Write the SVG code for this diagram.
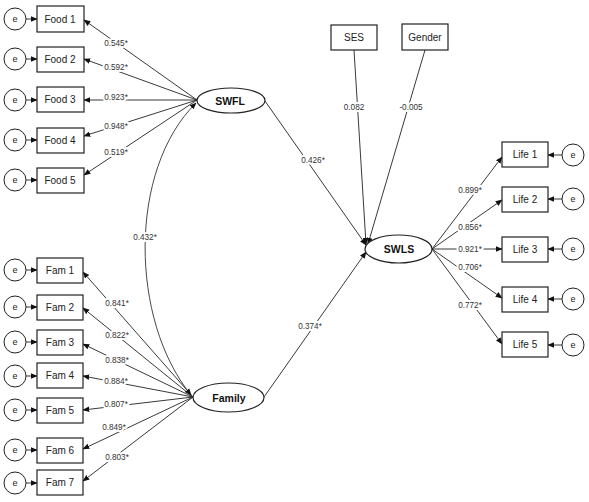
<svg xmlns="http://www.w3.org/2000/svg" width="589" height="502" viewBox="0 0 589 502">
<defs>
<marker id="ah" viewBox="0 0 10 10" refX="9" refY="5" markerWidth="7" markerHeight="7" markerUnits="userSpaceOnUse" orient="auto-start-reverse">
<path d="M0,1 L10,5 L0,9 z" fill="#111"/>
</marker>
<style>
.box{fill:#fff;stroke:#222;stroke-width:1.2}
.lat{fill:#fff;stroke:#222;stroke-width:1.2}
.err{fill:#fff;stroke:#222;stroke-width:1}
.t{font-family:"Liberation Sans",Arial,sans-serif;font-size:10px;fill:#222;text-anchor:middle}
.tb{font-family:"Liberation Sans",Arial,sans-serif;font-size:10.5px;font-weight:bold;fill:#111;text-anchor:middle}
.te{font-family:"Liberation Sans",Arial,sans-serif;font-size:9px;fill:#222;text-anchor:middle}
.lb{font-family:"Liberation Sans",Arial,sans-serif;font-size:8.2px;fill:#333;text-anchor:middle;stroke:#fff;stroke-width:4;paint-order:stroke;stroke-linejoin:round}
.c{stroke:#222;stroke-width:0.9;fill:none;marker-end:url(#ah)}
.cc{stroke:#333;stroke-width:0.9;fill:none;marker-end:url(#ah);marker-start:url(#ah)}
</style>
</defs>
<rect width="589" height="502" fill="#fff"/>
<g id="connectors">
<line class="c" x1="26" y1="19" x2="37" y2="19"/>
<line class="c" x1="26" y1="59" x2="37" y2="59"/>
<line class="c" x1="26" y1="100" x2="37" y2="100"/>
<line class="c" x1="26" y1="140" x2="37" y2="140"/>
<line class="c" x1="26" y1="180" x2="37" y2="180"/>
<line class="c" x1="26" y1="270" x2="37" y2="270"/>
<line class="c" x1="26" y1="307" x2="37" y2="307"/>
<line class="c" x1="26" y1="342" x2="37" y2="342"/>
<line class="c" x1="26" y1="376" x2="37" y2="376"/>
<line class="c" x1="26" y1="410" x2="37" y2="410"/>
<line class="c" x1="26" y1="450" x2="37" y2="450"/>
<line class="c" x1="26" y1="483" x2="37" y2="483"/>
<line class="c" x1="562" y1="155" x2="548" y2="155"/>
<line class="c" x1="562" y1="199" x2="548" y2="199"/>
<line class="c" x1="562" y1="249" x2="548" y2="249"/>
<line class="c" x1="562" y1="299" x2="548" y2="299"/>
<line class="c" x1="562" y1="345" x2="548" y2="345"/>
<line class="c" x1="197" y1="100" x2="84" y2="20"/>
<line class="c" x1="197" y1="100" x2="84" y2="59"/>
<line class="c" x1="197" y1="100" x2="84" y2="100"/>
<line class="c" x1="197" y1="100" x2="84" y2="136"/>
<line class="c" x1="197" y1="100" x2="84" y2="175"/>
<line class="c" x1="193" y1="397" x2="83" y2="272"/>
<line class="c" x1="193" y1="397" x2="83" y2="308"/>
<line class="c" x1="193" y1="397" x2="83" y2="344"/>
<line class="c" x1="193" y1="397" x2="83" y2="376"/>
<line class="c" x1="193" y1="397" x2="83" y2="410"/>
<line class="c" x1="193" y1="397" x2="83" y2="449"/>
<line class="c" x1="193" y1="397" x2="83" y2="481"/>
<path class="cc" d="M196,103 C128,170 130,320 191,395"/>
<line class="c" x1="265" y1="101" x2="366" y2="245"/>
<line class="c" x1="264" y1="397" x2="366" y2="252"/>
<line class="c" x1="354" y1="50" x2="366" y2="244"/>
<line class="c" x1="425" y1="50" x2="368" y2="244"/>
<line class="c" x1="432" y1="249" x2="502" y2="157"/>
<line class="c" x1="432" y1="249" x2="502" y2="200"/>
<line class="c" x1="432" y1="249" x2="502" y2="249"/>
<line class="c" x1="432" y1="249" x2="502" y2="298"/>
<line class="c" x1="432" y1="249" x2="502" y2="344"/>
<text class="lb" x="116" y="46">0.545*</text>
<text class="lb" x="116" y="70">0.592*</text>
<text class="lb" x="116" y="100">0.923*</text>
<text class="lb" x="116" y="129">0.948*</text>
<text class="lb" x="116" y="155">0.519*</text>
<text class="lb" x="145" y="240">0.432*</text>
<text class="lb" x="117" y="306">0.841*</text>
<text class="lb" x="117" y="338">0.822*</text>
<text class="lb" x="117" y="363">0.838*</text>
<text class="lb" x="116" y="384">0.884*</text>
<text class="lb" x="116" y="407">0.807*</text>
<text class="lb" x="114" y="430">0.849*</text>
<text class="lb" x="117" y="460">0.803*</text>
<text class="lb" x="313" y="163">0.426*</text>
<text class="lb" x="310" y="329">0.374*</text>
<text class="lb" x="354" y="110">0.082</text>
<text class="lb" x="411" y="110">-0.005</text>
<text class="lb" x="470" y="193">0.899*</text>
<text class="lb" x="470" y="230">0.856*</text>
<text class="lb" x="470" y="252">0.921*</text>
<text class="lb" x="470" y="270">0.706*</text>
<text class="lb" x="470" y="308">0.772*</text>
</g>
<g id="e-food1"><circle class="err" cx="15" cy="19" r="11"/><text class="te" x="15" y="22">e</text></g>
<g id="e-food2"><circle class="err" cx="15" cy="59" r="11"/><text class="te" x="15" y="62">e</text></g>
<g id="e-food3"><circle class="err" cx="15" cy="100" r="11"/><text class="te" x="15" y="103">e</text></g>
<g id="e-food4"><circle class="err" cx="15" cy="140" r="11"/><text class="te" x="15" y="143">e</text></g>
<g id="e-food5"><circle class="err" cx="15" cy="180" r="11"/><text class="te" x="15" y="183">e</text></g>
<g id="food1"><rect class="box" x="37" y="6" width="47" height="26"/><text class="t" x="60" y="23">Food 1</text></g>
<g id="food2"><rect class="box" x="37" y="47" width="47" height="25"/><text class="t" x="60" y="63">Food 2</text></g>
<g id="food3"><rect class="box" x="37" y="87" width="47" height="25"/><text class="t" x="60" y="103">Food 3</text></g>
<g id="food4"><rect class="box" x="37" y="128" width="47" height="25"/><text class="t" x="60" y="144">Food 4</text></g>
<g id="food5"><rect class="box" x="37" y="168" width="47" height="25"/><text class="t" x="60" y="184">Food 5</text></g>
<g id="e-fam1"><circle class="err" cx="15" cy="270" r="11"/><text class="te" x="15" y="273">e</text></g>
<g id="e-fam2"><circle class="err" cx="15" cy="307" r="11"/><text class="te" x="15" y="310">e</text></g>
<g id="e-fam3"><circle class="err" cx="15" cy="342" r="11"/><text class="te" x="15" y="345">e</text></g>
<g id="e-fam4"><circle class="err" cx="15" cy="376" r="11"/><text class="te" x="15" y="379">e</text></g>
<g id="e-fam5"><circle class="err" cx="15" cy="410" r="11"/><text class="te" x="15" y="413">e</text></g>
<g id="e-fam6"><circle class="err" cx="15" cy="450" r="11"/><text class="te" x="15" y="453">e</text></g>
<g id="e-fam7"><circle class="err" cx="15" cy="483" r="11"/><text class="te" x="15" y="486">e</text></g>
<g id="fam1"><rect class="box" x="37" y="258" width="46" height="25"/><text class="t" x="60" y="274">Fam 1</text></g>
<g id="fam2"><rect class="box" x="37" y="295" width="46" height="25"/><text class="t" x="60" y="311">Fam 2</text></g>
<g id="fam3"><rect class="box" x="37" y="330" width="46" height="25"/><text class="t" x="60" y="346">Fam 3</text></g>
<g id="fam4"><rect class="box" x="37" y="363" width="46" height="25"/><text class="t" x="60" y="379">Fam 4</text></g>
<g id="fam5"><rect class="box" x="37" y="398" width="46" height="25"/><text class="t" x="60" y="414">Fam 5</text></g>
<g id="fam6"><rect class="box" x="37" y="438" width="46" height="25"/><text class="t" x="60" y="454">Fam 6</text></g>
<g id="fam7"><rect class="box" x="37" y="470" width="46" height="25"/><text class="t" x="60" y="486">Fam 7</text></g>
<g id="swfl"><ellipse class="lat" cx="231" cy="100.5" rx="34" ry="12.5"/><text class="tb" x="230" y="104.5">SWFL</text></g>
<g id="family"><ellipse class="lat" cx="228.5" cy="397.5" rx="35.5" ry="14.5"/><text class="tb" x="229" y="401.5">Family</text></g>
<g id="swls"><ellipse class="lat" cx="398.5" cy="249" rx="33.5" ry="14"/><text class="tb" x="399" y="253">SWLS</text></g>
<g id="ses"><rect class="box" x="331" y="25" width="46" height="25"/><text class="t" x="354" y="41">SES</text></g>
<g id="gender"><rect class="box" x="402" y="24" width="46" height="26"/><text class="t" x="425" y="41">Gender</text></g>
<g id="life1"><rect class="box" x="502" y="142" width="46" height="25"/><text class="t" x="525" y="158">Life 1</text></g>
<g id="life2"><rect class="box" x="502" y="187" width="46" height="25"/><text class="t" x="525" y="203">Life 2</text></g>
<g id="life3"><rect class="box" x="502" y="237" width="46" height="25"/><text class="t" x="525" y="253">Life 3</text></g>
<g id="life4"><rect class="box" x="502" y="287" width="46" height="25"/><text class="t" x="525" y="303">Life 4</text></g>
<g id="life5"><rect class="box" x="502" y="332" width="46" height="25"/><text class="t" x="525" y="348">Life 5</text></g>
<g id="e-life1"><circle class="err" cx="573" cy="155" r="11"/><text class="te" x="573" y="158">e</text></g>
<g id="e-life2"><circle class="err" cx="573" cy="199" r="11"/><text class="te" x="573" y="202">e</text></g>
<g id="e-life3"><circle class="err" cx="573" cy="249" r="11"/><text class="te" x="573" y="252">e</text></g>
<g id="e-life4"><circle class="err" cx="573" cy="299" r="11"/><text class="te" x="573" y="302">e</text></g>
<g id="e-life5"><circle class="err" cx="573" cy="345" r="11"/><text class="te" x="573" y="348">e</text></g>
</svg>
